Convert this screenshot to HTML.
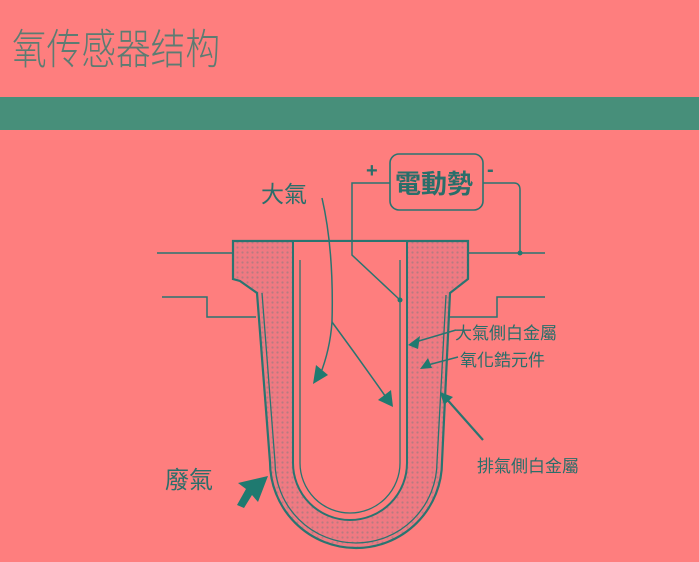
<!DOCTYPE html>
<html><head><meta charset="utf-8"><style>
html,body{margin:0;padding:0;background:#fe7e7e;width:699px;height:562px;overflow:hidden}
</style></head><body>
<svg width="699" height="562" viewBox="0 0 699 562" xmlns="http://www.w3.org/2000/svg" style="position:absolute;left:0;top:0">
<defs>
<pattern id="dots" width="5" height="5" patternUnits="userSpaceOnUse">
<rect width="5" height="5" fill="#ef7a82"/>
<circle cx="2.5" cy="2.5" r="1.1" fill="#b97a80"/>
</pattern>
</defs>
<rect x="0" y="0" width="699" height="562" fill="#fe7e7e"/>
<text x="12" y="64" font-family="'Liberation Sans','Noto Sans CJK SC',sans-serif" font-size="42" fill="#5c7c72" font-weight="300" textLength="208" lengthAdjust="spacingAndGlyphs">氧传感器结构</text>
<rect x="0" y="97" width="699" height="33" fill="#478f7a"/>
<g stroke="#2a7470" fill="none" stroke-width="1.5">
<line x1="157" y1="253" x2="233" y2="253"/>
<line x1="468" y1="253" x2="545" y2="253"/>
<polyline points="162,297 207,297 207,317 256,317"/>
<polyline points="446,317 497,317 497,297 545,297"/>
<path d="M233,241 L468,241 L468,279 L450,293 L442,462 A86,86 0 0 1 270,462 L257,293 L240,281 L233,279 Z" fill="url(#dots)" stroke-width="2.2"/>
<path d="M293,241 L293,463 A57,57 0 0 0 407,463 L407,241 Z" fill="#fe7e7e" stroke-width="2"/>
<path d="M300,260 L300,463 A50,50 0 0 0 400,463 L400,260" stroke-width="1.3"/>
<path d="M446,295 L437,462 A81,81 0 0 1 275,462" stroke-width="1.3"/>
<path d="M262,293 L275,462" stroke-width="1.3"/>
<rect x="390" y="154" width="93" height="56" rx="9" stroke-width="1.6"/>
<polyline points="390,183 352,183 352,255 400,300"/>
<path d="M483,183 L514,183 Q520,183 520,190 L520,253"/>
<path d="M322,198 Q334,250 332,322 Q330,350 320,375"/>
<path d="M332,322 Q360,360 388,400"/>
<line x1="456" y1="330" x2="412" y2="343"/>
<line x1="458" y1="357" x2="424" y2="366"/>
<line x1="483" y1="440" x2="444" y2="396" stroke-width="2.2"/>
</g>
<g fill="#1f7a70">
<circle cx="400" cy="300" r="2.5"/>
<circle cx="520" cy="253" r="2.5"/>
<polygon points="313,384 316,365 328,375"/>
<polygon points="393,407 378,400 391,390"/>
<polygon points="408,345 420,336 418,349"/>
<polygon points="420,369 428,358 432,368"/>
<polygon points="440,392 453,397 444,405"/>
<polygon points="268,476 238,483 246,489 237,505 244,508 252,495 258,502"/>
</g>
<g font-family="'Liberation Sans','Noto Sans CJK TC',sans-serif" fill="#2a6e6a">
<text x="366" y="177" font-size="20" font-weight="bold">+</text>
<text x="395" y="193" font-size="26" font-weight="bold">電動勢</text>
<text x="487" y="176" font-size="20" font-weight="bold">-</text>
<text x="261" y="202" font-size="23">大氣</text>
<text x="455" y="339" font-size="17">大氣側白金屬</text>
<text x="460" y="366" font-size="17">氧化鋯元件</text>
<text x="477" y="472" font-size="17">排氣側白金屬</text>
<text x="165" y="488" font-size="24">廢氣</text>
</g>
</svg>
</body></html>
